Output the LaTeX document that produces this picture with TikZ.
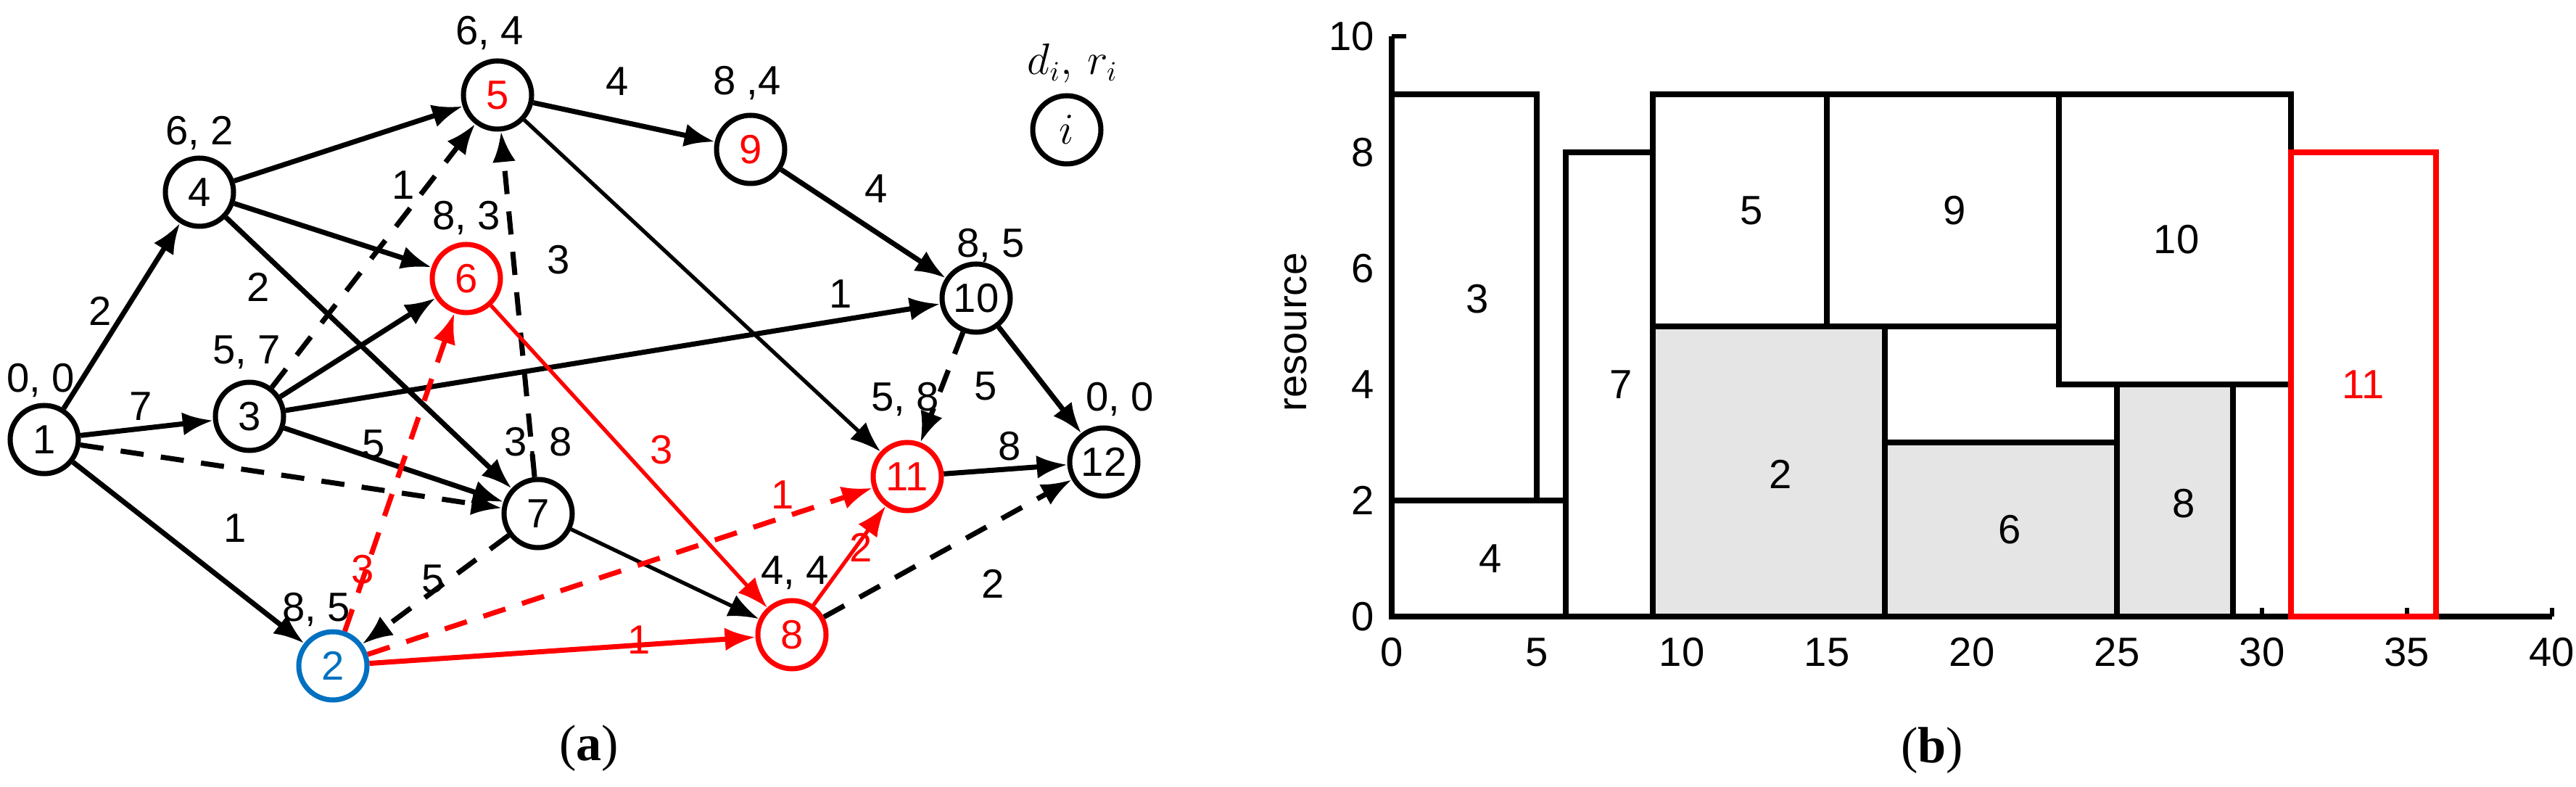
\documentclass[tikz,border=0pt]{standalone}
\usepackage{fontspec}
\setmainfont{Liberation Sans}
\newfontfamily\capfont{Liberation Serif}
\usetikzlibrary{arrows.meta}
\definecolor{nodeblue}{RGB}{0,112,192}
\tikzset{
  task/.style={circle, draw, line width=2pt, minimum size=0.94cm, inner sep=0pt},
  crit/.style={task, draw=red, text=red},
  arc/.style={line width=2pt, -{Latex[length=4.2mm,width=3.2mm]}},
  thinarc/.style={arc, line width=1.5pt},
  lag/.style={arc, dash pattern=on 3.2mm off 2.4mm},
  box/.style={draw, line width=2.4pt, fill=white},
  busy/.style={box, fill=black!10}
}
\begin{document}
\begin{tikzpicture}[font=\fontsize{16}{18}\selectfont]
  \useasboundingbox (0,0) rectangle (35.52,10.85);

  % draw nodes
  \node[task] (n1) at (0.61,4.79) {1};
  \node[task, draw=nodeblue, text=nodeblue] (n2) at (4.59,1.67) {2};
  \node[task] (n3) at (3.44,5.11) {3};
  \node[task] (n4) at (2.75,8.20) {4};
  \node[crit, draw=black] (n5) at (6.86,9.54) {5};
  \node[crit] (n6) at (6.43,7.01) {6};
  \node[task] (n7) at (7.42,3.77) {7};
  \node[crit] (n8) at (10.92,2.10) {8};
  \node[crit, draw=black] (n9) at (10.35,8.79) {9};
  \node[task] (n10) at (13.46,6.74) {10};
  \node[crit] (n11) at (12.51,4.28) {11};
  \node[task] (n12) at (15.22,4.48) {12};
  \node[task] (key) at (14.71,9.06) {$i$};

  % duration, resource of each task
  \node at (0.56,5.61) {0, 0};
  \node at (4.36,2.45) {8, 5};
  \node at (3.40,5.99) {5, 7};
  \node at (2.75,9.02) {6, 2};
  \node at (6.75,10.40) {6, 4};
  \node at (6.43,7.85) {8, 3};
  \node at (7.42,4.73) {3, 8};
  \node at (10.96,2.95) {4, 4};
  \node at (10.30,9.71) {8 ,4};
  \node at (13.66,7.47) {8, 5};
  \node at (12.48,5.35) {5, 8};
  \node at (15.44,5.35) {0, 0};
  \node at (14.79,9.98) {$d_i,\, r_i$};

  % draw arcs
  \draw[arc] (n1) -- (n4);
  \draw[arc] (n1) -- (n3);
  \draw[arc] (n1) -- (n2);
  \draw[arc] (n4) -- (n5);
  \draw[arc] (n4) -- (n6);
  \draw[arc] (n4) -- (n7);
  \draw[arc] (n3) -- (n6);
  \draw[arc] (n3) -- (n7);
  \draw[arc] (n3) -- (n10);
  \draw[arc] (n5) -- (n9);
  \draw[arc] (n9) -- (n10);
  \draw[thinarc] (n5) -- (n11);
  \draw[thinarc] (n7) -- (n8);
  \draw[arc] (n10) -- (n12);
  \draw[arc] (n11) -- (n12);
  \draw[lag] (n1) -- (n7);
  \draw[lag] (n3) -- (n5);
  \draw[lag] (n7) -- (n5);
  \draw[lag] (n7) -- (n2);
  \draw[lag] (n10) -- (n11);
  \draw[lag] (n8) -- (n12);
  \draw[thinarc, red] (n6) -- (n8);
  \draw[arc, red] (n2) -- (n8);
  \draw[thinarc, red] (n8) -- (n11);
  \draw[lag, red] (n2) -- (n6);
  \draw[lag, red] (n2) -- (n11);

  % arc labels
  \node at (1.38,6.56) {2};
  \node at (1.94,5.25) {7};
  \node at (3.24,3.57) {1};
  \node at (3.56,6.89) {2};
  \node at (5.56,8.30) {1};
  \node at (7.70,7.27) {3};
  \node at (5.15,4.73) {5};
  \node at (5.97,2.87) {5};
  \node at (8.51,9.73) {4};
  \node at (12.08,8.25) {4};
  \node at (11.59,6.80) {1};
  \node at (13.59,5.53) {5};
  \node at (13.92,4.70) {8};
  \node at (13.69,2.80) {2};
  \node[red] at (5.00,3.00) {3};
  \node[red] at (9.12,4.65) {3};
  \node[red] at (10.79,4.03) {1};
  \node[red] at (11.87,3.30) {2};
  \node[red] at (8.81,2.03) {1};

  % captions
  \node at (8.12,0.53) {\capfont\fontsize{20}{22}\selectfont(\textbf{a})};
  \node at (26.64,0.50) {\capfont\fontsize{20}{22}\selectfont(\textbf{b})};

  % resource profile
  \begin{scope}[shift={(19.19,2.35)}, xscale=0.4, yscale=0.8]
    \draw[line width=2.4pt] (0,10) -- (0,0) -- (40,0);
    \foreach \x in {0,5,...,40} {
      \draw[line width=1.6pt] (\x,0) -- (\x,0.15);
      \node at (\x,-0.62) {\x};
    }
    \foreach \y in {0,2,...,10} {
      \draw[line width=1.6pt] (0,\y) -- (0.5,\y);
      \node[left] at (-0.3,\y) {\y};
    }
    \node[rotate=90] at (-3.3,4.9) {resource};

    \draw[box] (0,0) rectangle (6,2);
    \draw[box] (0,2) rectangle (5,9);
    \draw[box] (6,0) rectangle (9,8);
    \draw[busy] (9,0) rectangle (17,5);
    \draw[box] (9,5) rectangle (15,9);
    \draw[box] (15,5) rectangle (23,9);
    \draw[box] (23,4) rectangle (31,9);
    \draw[busy] (17,0) rectangle (25,3);
    \draw[busy] (25,0) rectangle (29,4);
    \draw[line width=2.4pt, red] (31,0) rectangle (36,8);

    \node at (2.95,5.47) {3};
    \node at (3.4,1.0) {4};
    \node at (7.9,4.0) {7};
    \node at (13.4,2.45) {2};
    \node at (12.4,7.0) {5};
    \node at (19.4,7.0) {9};
    \node at (27.05,6.5) {10};
    \node at (21.3,1.5) {6};
    \node at (27.3,1.95) {8};
    \node[red] at (33.5,4.0) {11};
  \end{scope}
\end{tikzpicture}
\end{document}
